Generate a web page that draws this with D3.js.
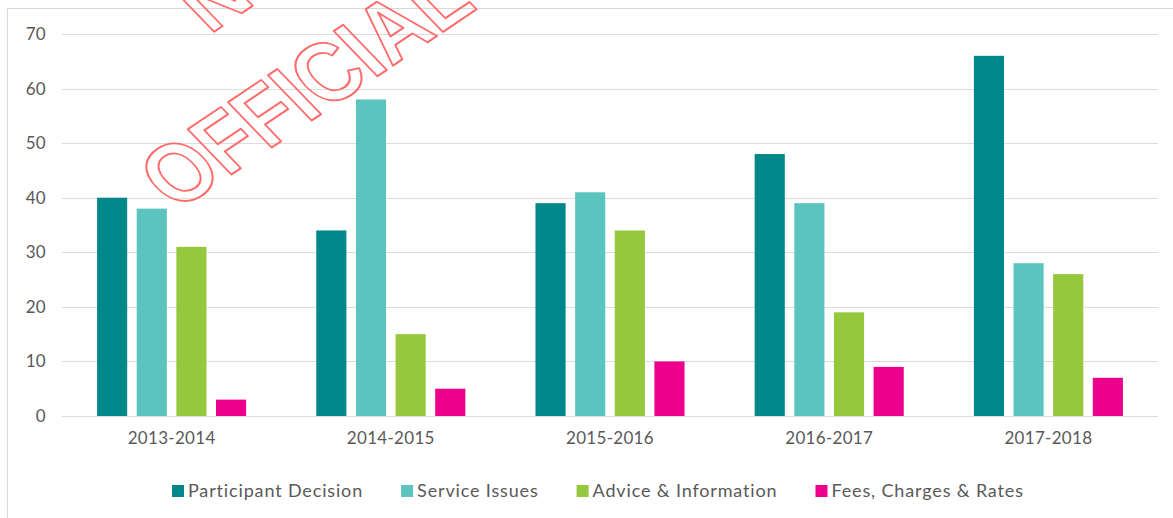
<!DOCTYPE html>
<html>
<head>
<meta charset="utf-8">
<script src="https://cdn.jsdelivr.net/npm/d3@7"></script>
<style>
  body { margin: 0; background: #fff; }
  svg { display: block; font-family: Lato, "Open Sans", sans-serif; }
</style>
</head>
<body>
<svg width="1173" height="518"></svg>
<script>
// chart data
const years = ['2013-2014', '2014-2015', '2015-2016', '2016-2017', '2017-2018'];
const seriesNames = ['Participant Decision', 'Service Issues', 'Advice & Information', 'Fees, Charges & Rates'];
const participantDecision = [40, 34, 39, 48, 66];
const serviceIssues = [38, 58, 41, 39, 28];
const adviceInformation = [31, 15, 34, 19, 26];
const feesCharges = [3, 5, 10, 9, 7];
const yTicks = [0, 10, 20, 30, 40, 50, 60, 70];
const colors = ['#00878a', '#5cc4be', '#95c83d', '#ec008c'];

const seriesValues = [participantDecision, serviceIssues, adviceInformation, feesCharges];

// one row per year with the four values
const rows = years.map((y, i) => ({
    year: y,
    values: seriesNames.map((s, j) => ({ key: s, value: seriesValues[j][i] }))
}));

var svg = d3.select('svg');

// outer frame of the chart area
svg.append('rect')
    .attr('x', 7.5).attr('y', 8.5)
    .attr('width', 1180).attr('height', 520)
    .attr('fill', 'none')
    .attr('stroke', '#d9d9d9');

var plot = {l: 62, r: 1158, t: 34, b: 416};

var x0 = d3.scaleBand()
    .domain(years)
    .range([plot.l, plot.r])
    .paddingInner(0.32)
    .paddingOuter(0.16);

var x1 = d3.scaleBand()
    .domain(seriesNames)
    .range([0, x0.bandwidth()])
    .paddingInner(0.24);

var y = d3.scaleLinear()
    .domain([0, 70])
    .range([plot.b, plot.t]);

// gridlines
svg.append('g')
    .selectAll('line')
    .data(yTicks)
    .join('line')
    .attr('x1', plot.l).attr('x2', plot.r)
    .attr('y1', d => Math.round(y(d)) + 0.5)
    .attr('y2', d => Math.round(y(d)) + 0.5)
    .attr('stroke', '#dcdcdc')
    .attr('stroke-width', 1);

// y axis labels
const yAxis = d3.axisLeft(y).tickValues(yTicks).tickSize(0).tickPadding(0);
svg.append('g')
    .attr('transform', 'translate(46,0)')
    .call(yAxis)
    .call(g => g.select('.domain').remove())
    .call(g => g.selectAll('text')
        .attr('fill', '#595959')
        .style('font-size', '17px')
        .style('letter-spacing', '0.3px')
        .style('font-family', 'Lato, sans-serif'));

// bars
const groups = svg.append('g')
    .selectAll('g')
    .data(rows)
    .join('g')
    .attr('transform', d => `translate(${x0(d.year)},0)`);

groups.selectAll('rect')
    .data(d => d.values)
    .join('rect')
    .attr('x', d => x1(d.key))
    .attr('y', d => y(d.value))
    .attr('width', x1.bandwidth())
    .attr('height', d => y(0) - y(d.value))
    .attr('fill', (d, i) => colors[i]);

// x axis labels
const xAxis = d3.axisBottom(x0).tickSize(0).tickPadding(0);
svg.append('g')
    .attr('transform', `translate(0,${plot.b + 16})`)
    .call(xAxis)
    .call(g => g.select('.domain').remove())
    .call(g => g.selectAll('text')
        .attr('fill', '#595959')
        .style('font-size', '17px')
        .style('letter-spacing', '0.3px')
        .style('font-family', 'Lato, sans-serif'));

// legend
const legend = svg.append('g').attr('transform', 'translate(0,491)');
let lx = 172;
seriesNames.forEach((name, i) => {
    const item = legend.append('g').attr('transform', `translate(${lx},0)`);
    item.append('rect')
        .attr('x', 0).attr('y', -6)
        .attr('width', 12).attr('height', 12)
        .attr('fill', colors[i]);
    const t = item.append('text')
        .attr('x', 16).attr('y', 0)
        .attr('dy', '0.35em')
        .attr('fill', '#595959')
        .style('font-size', '18px')
        .style('letter-spacing', '0.85px')
        .text(name);
    const w = t.node().getComputedTextLength();
    lx += 16 + w + 38;
});

// "NOT OFFICIAL" stamp drawn over the chart
const stamp = svg.append('g')
    .attr('transform', 'translate(176,212) rotate(-34) skewX(10) scale(0.88,1)')
    .attr('fill', 'none')
    .attr('stroke', '#ff6b6b')
    .attr('stroke-width', 2)
    .attr('stroke-linejoin', 'round')
    .style('font-family', '"Liberation Sans", Arial, sans-serif')
    .style('font-weight', 'bold')
    .style('font-size', '90px');
stamp.append('text')
    .attr('x', 170).attr('y', -128)
    .text('NOT');
stamp.append('text')
    .attr('x', 0).attr('y', 0)
    .text('OFFICIAL');
</script>
</body>
</html>
